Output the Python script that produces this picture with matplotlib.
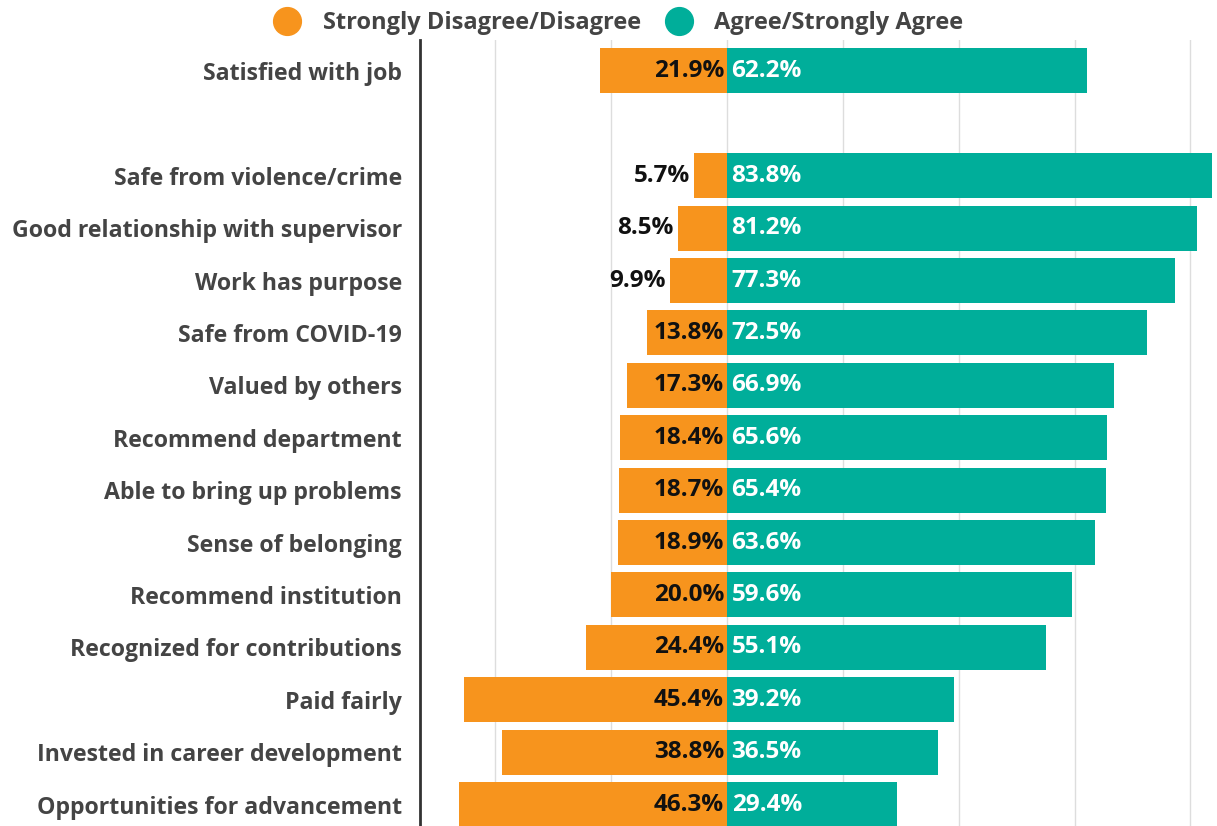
import numpy as np
import matplotlib.pyplot as plt
from matplotlib.lines import Line2D

plt.rcParams['font.family'] = ['Open Sans', 'DejaVu Sans']

# данные
items = ['Satisfied with job', 'Safe from violence/crime', 'Good relationship with supervisor',
         'Work has purpose', 'Safe from COVID-19', 'Valued by others', 'Recommend department',
         'Able to bring up problems', 'Sense of belonging', 'Recommend institution',
         'Recognized for contributions', 'Paid fairly', 'Invested in career development',
         'Opportunities for advancement']
disagree = [21.9, 5.7, 8.5, 9.9, 13.8, 17.3, 18.4, 18.7, 18.9, 20.0, 24.4, 45.4, 38.8, 46.3]
agree = [62.2, 83.8, 81.2, 77.3, 72.5, 66.9, 65.6, 65.4, 63.6, 59.6, 55.1, 39.2, 36.5, 29.4]
rows = [0] + list(range(2, 15))

orange = '#F7941D'
teal = '#00AE9A'

fig = plt.figure(figsize=(12.17, 8.26), dpi=100)
ax = fig.add_axes([420 / 1217, 0, 1 - 420 / 1217, 1 - 40 / 826])

ax.barh(rows, [-d for d in disagree], height=0.86, color=orange, zorder=2)
ax.barh(rows, agree, height=0.86, color=teal, zorder=2)

for y, d, a in zip(rows, disagree, agree):
    if d < 12:
        ax.text(-d - 0.7, y, f'{d:.1f}%', ha='right', va='center', fontsize=17.5,
                fontweight='bold', color='#111111', zorder=3)
    else:
        ax.text(-0.5, y, f'{d:.1f}%', ha='right', va='center', fontsize=17.5,
                fontweight='bold', color='#111111', zorder=3)
    ax.text(0.8, y, f'{a:.1f}%', ha='left', va='center', fontsize=17.5,
            fontweight='bold', color='white', zorder=3)

ax.set_xlim(-53, 84.6)
ax.set_ylim(14.41, -0.59)
ax.set_xticks([-40, -20, 0, 20, 40, 60, 80])
ax.set_xticklabels([])
ax.tick_params(axis='x', length=0)
ax.grid(axis='x', color='#dddddd', linewidth=1, zorder=0)
ax.set_yticks(rows)
ax.set_yticklabels(items, fontsize=16.7, fontweight='bold', color='#444444')
ax.tick_params(axis='y', length=0, pad=13)
for s in ['top', 'right', 'bottom']:
    ax.spines[s].set_visible(False)
ax.spines['left'].set_color('#333333')
ax.spines['left'].set_linewidth(2)

handles = [Line2D([], [], marker='o', linestyle='none', markersize=20, color=orange),
           Line2D([], [], marker='o', linestyle='none', markersize=20, color=teal)]
fig.legend(handles, ['Strongly Disagree/Disagree', 'Agree/Strongly Agree'], ncol=2,
           loc='center', bbox_to_anchor=(0.504, 0.972), frameon=False,
           prop={'size': 17, 'weight': 'bold'}, labelcolor='#444444',
           handletextpad=0.5, columnspacing=0.6)

fig.savefig('out.png', dpi=100)
